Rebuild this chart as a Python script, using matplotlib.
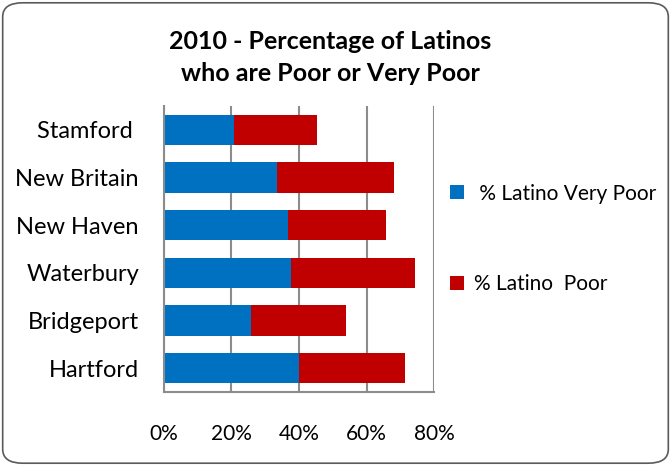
import matplotlib.pyplot as plt
from matplotlib.patches import FancyBboxPatch

plt.rcParams["font.family"] = ["Lato", "DejaVu Sans"]

cities = ["Hartford", "Bridgeport", "Waterbury", "New Haven", "New Britain", "Stamford "]
very_poor = [40.1, 25.9, 37.7, 36.7, 33.6, 20.7]
poor = [31.4, 27.9, 36.7, 29.2, 34.5, 24.7]
x_ticks = [0, 20, 40, 60, 80]
x_tick_labels = ["0%", "20%", "40%", "60%", "80%"]

blue = "#0070C0"
red = "#C00000"
grid_gray = "#8C8C8C"

fig = plt.figure(figsize=(6.71, 4.66), dpi=100)
ax = fig.add_axes([0.2444, 0.1588, 0.4024, 0.6137])

ypos = range(len(cities))
b1 = ax.barh(ypos, very_poor, height=0.63, color=blue, label=" % Latino Very Poor")
b2 = ax.barh(ypos, poor, left=very_poor, height=0.63, color=red, label="% Latino  Poor")

ax.set_xlim(0, 80)
ax.set_ylim(-0.5, 5.5)
ax.set_xticks(x_ticks)
ax.set_xticklabels(x_tick_labels, fontsize=15)
ax.set_yticks(list(ypos))
ax.set_yticklabels(cities, fontsize=17)
ax.tick_params(axis="both", length=0)
ax.tick_params(axis="x", pad=23)
ax.tick_params(axis="y", pad=18)

ax.grid(axis="x", color=grid_gray, linewidth=1.5)
ax.set_axisbelow(True)
for side in ["top", "right"]:
    ax.spines[side].set_visible(False)
for side in ["left", "bottom"]:
    ax.spines[side].set_color(grid_gray)
    ax.spines[side].set_linewidth(1.5)

fig.text(0.492, 0.91, "2010 - Percentage of Latinos", ha="center", va="center",
         fontsize=18, fontweight="bold")
fig.text(0.492, 0.842, "who are Poor or Very Poor", ha="center", va="center",
         fontsize=18, fontweight="bold")

fig.legend(handles=[b1, b2], loc="center left", bbox_to_anchor=(0.643, 0.487),
           frameon=False, fontsize=15, handlelength=0.65, handleheight=0.65,
           handletextpad=0.5, labelspacing=3.4)

# rounded frame around the whole chart
frame = FancyBboxPatch((0.004, 0.006), 0.992, 0.988, boxstyle="round,pad=0,rounding_size=0.03",
                       transform=fig.transFigure, facecolor="none", edgecolor="#5A5A5A",
                       linewidth=1.2)
fig.patches.append(frame)

fig.savefig("out.png", dpi=100)
